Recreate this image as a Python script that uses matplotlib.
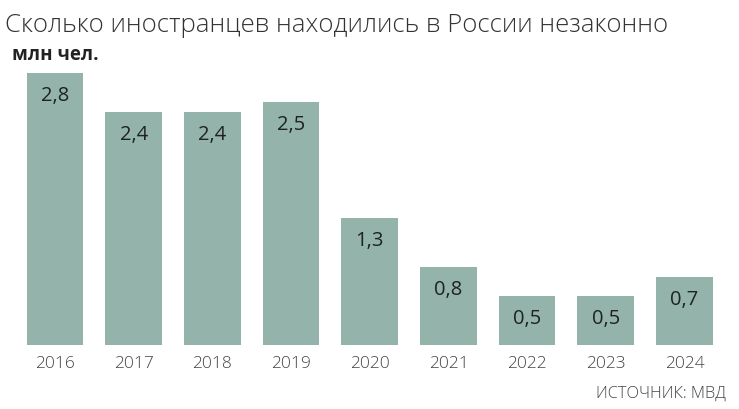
import matplotlib
matplotlib.use("Agg")
import matplotlib.pyplot as plt

years = ["2016", "2017", "2018", "2019", "2020", "2021", "2022", "2023", "2024"]
values = [2.8, 2.4, 2.4, 2.5, 1.3, 0.8, 0.5, 0.5, 0.7]
value_labels = ["2,8", "2,4", "2,4", "2,5", "1,3", "0,8", "0,5", "0,5", "0,7"]

title = "Сколько иностранцев находились в России незаконно"
unit = "млн чел."
source = "ИСТОЧНИК: МВД"

W, H = 739, 410
fig = plt.figure(figsize=(W / 100, H / 100), dpi=100)
fig.patch.set_facecolor("white")

left = 15.65 / W
right = 723.85 / W
bottom = (H - 345.5) / H
ax = fig.add_axes([left, bottom, right - left, 290.9 / H])

x = list(range(len(years)))
ax.bar(x, values, width=0.72, color="#93B3AB", edgecolor="none")
ax.set_xlim(-0.5, len(years) - 0.5)
ax.set_ylim(0, 3.0)
ax.set_yticks([])
for s in ax.spines.values():
    s.set_visible(False)
ax.set_xticks(x)
ax.set_xticklabels(years, fontsize=12.5, color="#444444", family="Open Sans", fontweight="light")
ax.tick_params(axis="x", length=0, pad=7.5)

for xi, v, lab in zip(x, values, value_labels):
    ax.annotate(lab, (xi, v), xytext=(0, -22), textcoords="offset pixels",
                ha="center", va="center", fontsize=14.5, color="#1e2224",
                family="Open Sans")

fig.text(5 / W, 1 - 32 / H, title, fontsize=18.5, color="#333333",
         family="Open Sans", fontweight="light", ha="left", va="baseline")
fig.text(12 / W, 1 - 59.5 / H, unit, fontsize=13.5, color="#222222",
         family="Open Sans", fontweight="bold", ha="left", va="baseline")
fig.text(726 / W, 1 - 397.3 / H, source, fontsize=11.8, color="#444444",
         family="Open Sans", fontweight="light", ha="right", va="baseline")

fig.savefig("out.png", dpi=100, facecolor="white")
